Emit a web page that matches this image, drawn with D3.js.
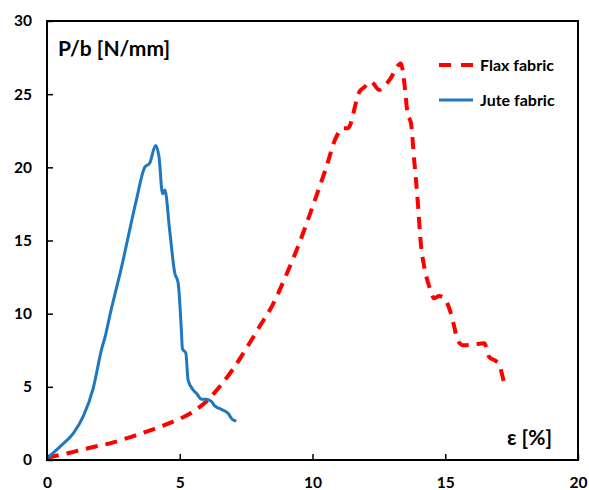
<!DOCTYPE html>
<html>
<head>
<meta charset="utf-8">
<script src="https://cdn.jsdelivr.net/npm/d3@7"></script>
<style>
  html, body { margin: 0; padding: 0; background: #fff; }
  svg { display: block; }
  text { font-family: Lato, "Open Sans", sans-serif; font-weight: bold; fill: #000; }
</style>
</head>
<body>
<svg id="chart" width="589" height="490"></svg>
<script>
// ---- data ----
const jutePoints = [
  [0, 0.1], [0.49, 0.91], [0.99, 1.82], [1.36, 2.96], [1.74, 4.9], [2.06, 7.6],
  [2.2, 8.5], [2.37, 9.9], [2.81, 13.2], [3.37, 17.8], [3.68, 20.0], [3.87, 20.3], [4.09, 21.5],
  [4.22, 20.7], [4.35, 18.2], [4.44, 18.45], [4.62, 15.7], [4.81, 12.8], [4.94, 12.1],
  [5.06, 8.9], [5.10, 7.6], [5.23, 7.3], [5.31, 5.5], [5.50, 4.8], [5.63, 4.56],
  [5.82, 4.15], [6.0, 4.15], [6.19, 4.0], [6.32, 3.7], [6.57, 3.46], [6.82, 3.19],
  [6.98, 2.78], [7.13, 2.67]
];
const flaxPoints = [
  [0, 0.15], [0.86, 0.5], [1.62, 0.84], [2.37, 1.14], [3.12, 1.55], [4.0, 2.1],
  [4.75, 2.62], [5.44, 3.23], [6.0, 4.0], [6.5, 5.0], [7.0, 6.2], [7.5, 7.6],
  [8.0, 9.1], [8.5, 10.6], [9.0, 12.6], [9.5, 14.8], [10.0, 17.3], [10.5, 19.9],
  [10.9, 22.1], [11.14, 22.67], [11.33, 22.67], [11.77, 25.17], [11.95, 25.47], [12.2, 25.85],
  [12.52, 25.29], [12.9, 25.97], [13.33, 27.1], [13.46, 25.74], [13.58, 23.7],
  [13.71, 23.0], [13.83, 20.5], [13.96, 17.77], [14.09, 14.6], [14.21, 13.2],
  [14.4, 11.84], [14.59, 11.05], [14.77, 11.2], [14.96, 11.05], [15.15, 10.37],
  [15.34, 9.11], [15.46, 8.2], [15.68, 7.84], [16.09, 7.9], [16.47, 7.97],
  [16.65, 7.06], [16.9, 6.77], [17.03, 6.56], [17.13, 5.92], [17.22, 5.35],
  [17.34, 5.28], [17.43, 5.42]
];
const xTicks = [0, 5, 10, 15, 20];
const yTicks = [0, 5, 10, 15, 20, 25, 30];
const seriesNames = ["Flax fabric", "Jute fabric"];
const yTitle = "P/b [N/mm]";
const xTitle = "ε [%]";

// ---- layout ----
const svg = d3.select("#chart");
const L = 47, R = 578, T = 21, B = 460;
const x = d3.scaleLinear().domain([0, 20]).range([L, R]);
const y = d3.scaleLinear().domain([0, 30]).range([B, T]);

const line = d3.line().x(d => x(d[0])).y(d => y(d[1])).curve(d3.curveMonotoneX);

// clip
svg.append("defs").append("clipPath").attr("id", "clip")
  .append("rect").attr("x", L).attr("y", T).attr("width", R - L).attr("height", B - T);

// curves
const g = svg.append("g").attr("clip-path", "url(#clip)");
g.append("path").datum(flaxPoints).attr("d", line)
  .attr("fill", "none").attr("stroke", "#ff0000").attr("stroke-width", 4)
  .attr("stroke-dasharray", "12,8");
g.append("path").datum(jutePoints).attr("d", line)
  .attr("fill", "none").attr("stroke", "#1f78bf").attr("stroke-width", 3)
  .attr("stroke-linejoin", "round");

// axes
const xAxis = svg.append("g").attr("transform", `translate(0,${B})`)
  .call(d3.axisBottom(x).tickValues(xTicks).tickSizeInner(-6).tickSizeOuter(0).tickPadding(17));
const yAxis = svg.append("g").attr("transform", `translate(${L},0)`)
  .call(d3.axisLeft(y).tickValues(yTicks).tickSizeInner(-6).tickSizeOuter(0).tickPadding(15));
[xAxis, yAxis].forEach(a => {
  a.select(".domain").remove();
  a.selectAll(".tick line").attr("stroke", "#000").attr("stroke-width", 1.5);
  a.selectAll(".tick text").attr("font-size", 15.5).attr("font-family", "Lato, sans-serif")
    .attr("font-weight", "bold").attr("fill", "#000");
});

// frame
svg.append("rect").attr("x", L).attr("y", T).attr("width", R - L).attr("height", B - T)
  .attr("fill", "none").attr("stroke", "#000").attr("stroke-width", 2);

// titles
svg.append("text").attr("x", 58).attr("y", 56).attr("font-size", 21).text(yTitle);
svg.append("text").attr("x", 552).attr("y", 445).attr("text-anchor", "end")
  .attr("font-size", 21).text(xTitle);

// legend
const legend = svg.append("g");
const legendY = [65, 100];
legend.append("line").attr("x1", 439).attr("x2", 473).attr("y1", legendY[0]).attr("y2", legendY[0])
  .attr("stroke", "#ff0000").attr("stroke-width", 4).attr("stroke-dasharray", "12,10");
legend.append("line").attr("x1", 439).attr("x2", 473).attr("y1", legendY[1]).attr("y2", legendY[1])
  .attr("stroke", "#1f78bf").attr("stroke-width", 3);
seriesNames.forEach((n, i) => {
  legend.append("text").attr("x", 480).attr("y", legendY[i] + 6).attr("font-size", 16).text(n);
});
</script>
</body>
</html>
